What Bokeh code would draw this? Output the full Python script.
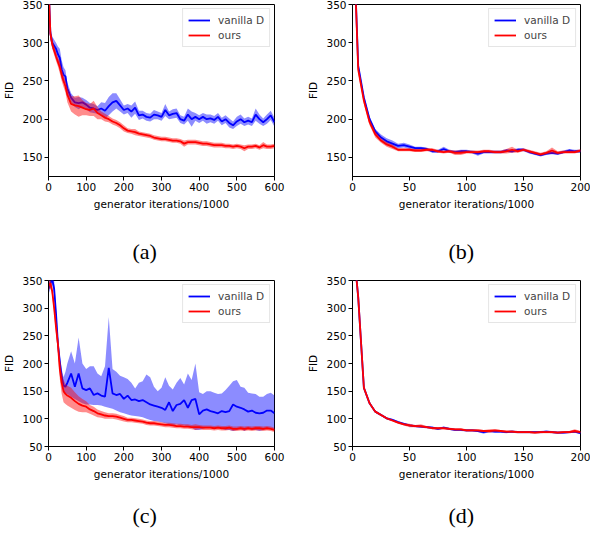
from bokeh.plotting import figure
from bokeh.layouts import column, row
from bokeh.models import Range1d, FixedTicker, Legend, LegendItem, Title, LinearAxis
from bokeh.embed import file_html
from bokeh.resources import INLINE

# ---------------- data ----------------
x_long = [0, 5, 10, 15, 20, 25, 30, 35, 40, 45, 50,
          60, 70, 80, 90, 100, 110, 120, 130, 140, 150,
          160, 170, 180, 190, 200, 210, 220, 230, 240, 250,
          260, 270, 280, 290, 300, 310, 320, 330, 340, 350,
          360, 370, 380, 390, 400, 410, 420, 430, 440, 450,
          460, 470, 480, 490, 500, 510, 520, 530, 540, 550,
          560, 570, 580, 590, 600]

x_short = [0, 5, 10, 15, 20, 25, 30, 35, 40, 45, 50, 55, 60, 65, 70, 75, 80, 85, 90, 95,
           100, 105, 110, 115, 120, 125, 130, 135, 140, 145, 150, 155, 160, 165, 170, 175,
           180, 185, 190, 195, 200]

# (a)
a_vanilla = [380, 312, 300, 296, 292, 285, 280, 265, 258, 256, 240,
             228, 222, 221, 222, 219, 215, 214, 212, 214, 211,
             217, 222, 224, 218, 212, 214, 210, 215, 205, 206,
             203, 202, 206, 205, 203, 212, 205, 207, 208, 200,
             198, 206, 200, 203, 200, 203, 200, 201, 199, 203,
             197, 200, 195, 192, 197, 200, 196, 198, 196, 206,
             200, 196, 200, 205, 196]
a_vanilla_sd = [8, 8, 8, 8, 8, 10, 12, 12, 10, 8, 8,
                6, 6, 8, 6, 6, 6, 6, 5, 8, 10,
                12, 12, 10, 8, 6, 6, 8, 8, 6, 5,
                5, 5, 6, 5, 5, 8, 5, 6, 6, 5,
                5, 8, 10, 5, 5, 5, 6, 5, 5, 5,
                5, 5, 6, 5, 6, 6, 5, 5, 5, 8,
                6, 5, 6, 6, 6]
a_ours = [380, 312, 298, 290, 282, 275, 268, 258, 250, 243, 232,
          220, 218, 217, 215, 213, 212, 214, 208, 205, 202,
          200, 197, 195, 192, 188, 185, 184, 183, 181, 180,
          179, 178, 176, 175, 174, 174, 173, 172, 172, 171,
          168, 170, 170, 170, 169, 168, 168, 167, 166, 166,
          166, 165, 165, 164, 165, 164, 162, 164, 164, 165,
          163, 166, 164, 164, 165]
a_ours_sd = [8, 8, 6, 6, 6, 6, 8, 8, 8, 8, 10,
             10, 12, 14, 10, 8, 8, 10, 8, 5, 5,
             4, 4, 4, 4, 4, 3, 3, 4, 3, 3,
             3, 3, 3, 3, 3, 3, 3, 3, 3, 3,
             4, 3, 3, 3, 3, 3, 3, 3, 3, 3,
             3, 3, 3, 3, 3, 3, 4, 3, 3, 3,
             3, 4, 3, 3, 3]

# (b)
b_vanilla = [480, 270, 228, 200, 184, 176, 171, 168, 165, 166, 164, 162, 162, 161, 158, 158,
             161, 158, 157, 158, 158, 157, 155, 157, 157, 157, 157, 159, 158, 160, 160, 157,
             155, 153, 155, 156, 155, 157, 159, 158, 158]
b_vanilla_sd = [4, 4, 4, 3, 3, 4, 4, 4, 3, 3, 3, 2, 2, 2, 2, 2, 3, 2, 2, 2, 2, 2, 3, 2, 2,
                2, 2, 2, 2, 2, 2, 2, 2, 2, 2, 2, 2, 2, 2, 2, 2]
b_ours = [480, 265, 224, 196, 180, 172, 167, 164, 160, 160, 160, 159, 159, 160, 160, 158,
          157, 158, 156, 156, 157, 157, 157, 158, 158, 157, 157, 158, 160, 158, 160, 158,
          156, 154, 156, 159, 156, 157, 157, 157, 159]
b_ours_sd = [6, 5, 4, 4, 4, 3, 3, 3, 2, 2, 2, 2, 2, 2, 2, 2, 2, 2, 3, 3, 2, 2, 2, 2, 2,
             2, 2, 3, 4, 2, 2, 2, 2, 2, 2, 4, 2, 2, 2, 2, 2]

# (c)
c_vanilla = [335, 345, 352, 335, 290, 236, 204, 176, 160, 158, 165,
             182, 158, 182, 155, 152, 155, 143, 146, 142, 140,
             192, 146, 143, 145, 136, 142, 134, 135, 132, 134,
             130, 126, 124, 122, 120, 116, 130, 114, 125, 127,
             134, 120, 134, 136, 108, 115, 117, 114, 112, 110,
             114, 112, 114, 126, 122, 120, 117, 113, 115, 111,
             110, 111, 115, 115, 110]
c_vanilla_hi = [350, 355, 360, 350, 300, 250, 215, 190, 175, 185, 200,
                222, 200, 247, 200, 190, 195, 195, 182, 177, 195,
                284, 190, 185, 178, 175, 172, 165, 155, 165, 168,
                180, 175, 158, 150, 156, 175, 160, 153, 165, 174,
                162, 182, 170, 200, 148, 145, 150, 150, 147, 145,
                146, 152, 160, 168, 170, 158, 156, 147, 146, 145,
                140, 140, 145, 147, 142]
c_vanilla_lo = [325, 335, 342, 325, 280, 226, 192, 164, 150, 146, 145,
                140, 136, 132, 128, 126, 126, 125, 125, 124, 122,
                120, 118, 115, 112, 110, 108, 106, 105, 104, 103,
                100, 98, 96, 95, 94, 92, 90, 88, 90, 88,
                88, 86, 84, 80, 80, 82, 84, 84, 82, 84,
                82, 80, 80, 78, 80, 82, 78, 82, 80, 80,
                78, 80, 82, 82, 80]
c_ours = [340, 345, 330, 300, 265, 235, 190, 165, 150, 145, 142,
          138, 132, 127, 124, 122, 117, 114, 110, 108, 106,
          105, 105, 104, 102, 100, 98, 98, 97, 96, 95,
          93, 92, 92, 91, 90, 89, 89, 88, 87, 87,
          86, 86, 85, 85, 85, 84, 84, 84, 83, 84,
          83, 83, 84, 82, 82, 83, 82, 83, 82, 83,
          83, 82, 83, 82, 80]
c_ours_sd = [8, 8, 8, 10, 12, 15, 18, 20, 20, 18, 18,
             18, 16, 14, 12, 10, 8, 8, 7, 6, 6,
             5, 5, 5, 5, 5, 4, 4, 4, 4, 4,
             4, 4, 4, 4, 4, 4, 4, 4, 4, 4,
             4, 4, 4, 5, 4, 4, 4, 4, 4, 4,
             4, 4, 4, 4, 4, 4, 4, 4, 4, 4,
             4, 4, 4, 4, 4]

# (d)
d_vanilla = [430, 320, 156, 128, 113, 107, 101, 98, 94, 91, 88, 87, 86, 85, 84, 82, 84, 82,
             80, 80, 79, 79, 78, 76, 78, 77, 77, 76, 77, 76, 76, 76, 76, 76, 77, 76, 75, 75,
             76, 77, 74]
d_vanilla_sd = [3, 3, 3, 2, 2, 2, 2, 2, 2, 2, 2, 2, 2, 2, 2, 2, 2, 2, 2, 2, 2, 2, 2, 3, 2,
                2, 2, 2, 2, 2, 2, 2, 2, 2, 2, 2, 2, 2, 2, 2, 2]
d_ours = [430, 320, 156, 128, 113, 107, 101, 97, 93, 90, 88, 87, 87, 85, 83, 83, 83, 82,
          81, 81, 79, 79, 79, 78, 78, 79, 78, 77, 77, 76, 76, 76, 75, 76, 76, 76, 75, 76,
          76, 78, 76]
d_ours_sd = [3, 3, 3, 2, 2, 2, 2, 2, 2, 2, 3, 2, 3, 2, 2, 2, 2, 2, 2, 2, 2, 2, 2, 2, 3,
             2, 2, 2, 2, 2, 2, 2, 2, 2, 2, 2, 2, 2, 2, 3, 2]

x_ticks_long = [0, 100, 200, 300, 400, 500, 600]
x_ticks_short = [0, 50, 100, 150, 200]
y_ticks_top = [150, 200, 250, 300, 350]
y_ticks_bottom = [50, 100, 150, 200, 250, 300, 350]
captions = ["(a)", "(b)", "(c)", "(d)"]

BLUE = "#0000ff"
RED = "#ff0000"
FONT = "DejaVu Sans"
FS = "10.5px"


def lohi(mid, sd):
    return [m - s for m, s in zip(mid, sd)], [m + s for m, s in zip(mid, sd)]


def panel(xs, van, van_lo, van_hi, ours, ours_lo, ours_hi, xmax, ymin, xticks, yticks,
          width, height, mbl, mbr, mbt, mbb, caption, cap_offset, cap_gap):
    p = figure(width=width, height=height, x_range=Range1d(0, xmax), y_range=Range1d(ymin, 350),
               output_backend="svg", toolbar_location=None,
               min_border_left=mbl, min_border_right=mbr, min_border_top=mbt, min_border_bottom=mbb)
    p.xgrid.visible = False
    p.ygrid.visible = False
    p.outline_line_color = "black"
    p.outline_line_alpha = 1.0
    p.outline_line_width = 1
    for ax in (p.xaxis[0], p.yaxis[0]):
        ax.axis_line_color = "black"
        ax.major_tick_line_color = "black"
        ax.major_tick_out = 4
        ax.major_tick_in = 0
        ax.minor_tick_line_color = None
        ax.major_label_text_font = FONT
        ax.major_label_text_font_size = FS
        ax.major_label_text_color = "black"
        ax.major_label_standoff = 2
        ax.axis_label_text_font = FONT
        ax.axis_label_text_font_size = FS
        ax.axis_label_text_font_style = "normal"
        ax.axis_label_text_color = "black"
        ax.axis_label_standoff = 4
    p.xaxis.ticker = FixedTicker(ticks=xticks)
    p.yaxis.ticker = FixedTicker(ticks=yticks)
    p.xaxis.axis_label = "generator iterations/1000"
    p.yaxis.axis_label = "FID"

    p.varea(x=xs, y1=van_lo, y2=van_hi, fill_color=BLUE, fill_alpha=0.45)
    lv = p.line(xs, van, line_color=BLUE, line_width=1.8)
    p.varea(x=xs, y1=ours_lo, y2=ours_hi, fill_color=RED, fill_alpha=0.45)
    lo = p.line(xs, ours, line_color=RED, line_width=1.8)

    leg = Legend(items=[LegendItem(label="vanilla D", renderers=[lv]),
                        LegendItem(label="ours", renderers=[lo])],
                 location="top_right", margin=4, padding=5, spacing=3,
                 glyph_width=22, glyph_height=12, label_height=12, label_standoff=8,
                 label_text_font=FONT, label_text_font_size=FS,
                 border_line_color="#cccccc", border_line_width=1,
                 background_fill_alpha=0.8)
    p.add_layout(leg)

    # invisible spacer axis that sets the gap between the axis label and the caption
    spacer = LinearAxis(ticker=FixedTicker(ticks=[xticks[0]]), axis_line_color=None,
                        major_tick_line_color=None, minor_tick_line_color=None,
                        major_tick_out=cap_gap, major_tick_in=0,
                        major_label_text_font_size="1px", major_label_text_color=None,
                        major_label_standoff=0)
    p.add_layout(spacer, "below")

    p.add_layout(Title(text=caption, align="left", offset=cap_offset, standoff=0,
                       text_font="Liberation Serif", text_font_size="22px",
                       text_font_style="normal", text_color="black"), "below")
    return p


a_vlo, a_vhi = lohi(a_vanilla, a_vanilla_sd)
a_olo, a_ohi = lohi(a_ours, a_ours_sd)
b_vlo, b_vhi = lohi(b_vanilla, b_vanilla_sd)
b_olo, b_ohi = lohi(b_ours, b_ours_sd)
c_olo, c_ohi = lohi(c_ours, c_ours_sd)
d_vlo, d_vhi = lohi(d_vanilla, d_vanilla_sd)
d_olo, d_ohi = lohi(d_ours, d_ours_sd)

pa = panel(x_long, a_vanilla, a_vlo, a_vhi, a_ours, a_olo, a_ohi, 600, 125, x_ticks_long, y_ticks_top,
           290, 276, 44, 16, 4, 100, captions[0], 84, 24)
pb = panel(x_short, b_vanilla, b_vlo, b_vhi, b_ours, b_olo, b_ohi, 200, 125, x_ticks_short, y_ticks_top,
           300, 276, 62, 10, 4, 100, captions[1], 96, 24)
pc = panel(x_long, c_vanilla, c_vanilla_lo, c_vanilla_hi, c_ours, c_olo, c_ohi, 600, 50, x_ticks_long,
           y_ticks_bottom, 290, 252, 44, 16, 4, 82, captions[2], 84, 18)
pd = panel(x_short, d_vanilla, d_vlo, d_vhi, d_ours, d_olo, d_ohi, 200, 50, x_ticks_short, y_ticks_bottom,
           300, 252, 62, 10, 4, 82, captions[3], 96, 18)

layout = column(row(pa, pb), row(pc, pd))
open("out.html", "w").write(file_html(layout, INLINE))
